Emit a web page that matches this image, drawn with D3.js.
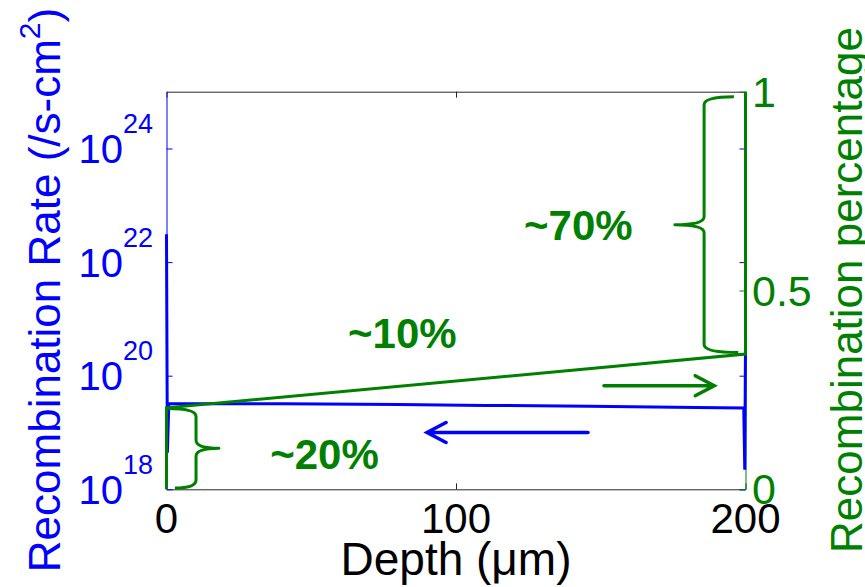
<!DOCTYPE html>
<html><head><meta charset="utf-8">
<script src="https://cdn.jsdelivr.net/npm/d3@7"></script>
<style>body{margin:0;background:#fff}svg{display:block}text{font-family:"Liberation Sans",Arial,Helvetica,sans-serif}</style>
</head><body><svg id="c" width="865" height="587"></svg>
<script>
// ---- data ----
const xTicks = [0, 100, 200];
const leftTickExps = [18, 20, 22, 24];
const rightTicks = [0, 0.5, 1];
const rateDepth = [0, 0.3, 0.8, 40, 80, 110, 146, 183, 199.4, 199.75, 200];
const rateValue = [3.1e22, 4.4e18, 3.2e19, 3.2e19, 3.1e19, 3.0e19, 2.9e19, 2.75e19, 2.7e19, 2.2e18, 3.5e20];
const pctDepth = [0, 0, 200, 200];
const pctValue = [0, 0.205, 0.34, 1];
const annoLabels = ["~20%", "~10%", "~70%"];
const annoDepth = [35.8, 62.7, 123.5];
const annoPct = [0.051, 0.355, 0.627];
const braceSpine = [10.2, 185.7];
const braceTip = [18.1, 175.6];
const braceHookTop = [0.6, 196.0];
const braceHookBottom = [2.9, 197.5];
const braceTop = [0.203, 0.987];
const braceBottom = [0.003, 0.344];
const greenArrow = {from: 151.1, to: 189.2, pct: 0.2606};
const blueArrow = {from: 145.6, to: 90.0, rate: 1e19};

const BLUE = "#0000ff", GREEN = "#008000", AX = "#262626";
const svg = d3.select("#c");
const x = d3.scaleLinear([0, 200], [166.5, 745.5]);
const yL = d3.scaleLog([1e18, 1e25], [489.3, 91.7]);
const yR = d3.scaleLinear([0, 1], [489.3, 91.7]);

// ---- axes ----
function styleAxis(g, color) {
  g.selectAll("path").attr("stroke", color).attr("stroke-width", 1);
  g.selectAll("line").attr("stroke", color).attr("stroke-width", 1);
  g.selectAll("text").remove();
}
svg.append("g").attr("transform", "translate(0,489.3)")
  .call(d3.axisTop(x).tickValues(xTicks).tickSize(6).tickSizeOuter(0)).call(g => styleAxis(g, AX));
svg.append("g").attr("transform", "translate(0,91.7)")
  .call(d3.axisBottom(x).tickValues(xTicks).tickSize(6).tickSizeOuter(0)).call(g => styleAxis(g, AX));
svg.append("g").attr("transform", "translate(166.5,0)")
  .call(d3.axisRight(yL).tickValues(leftTickExps.map(e => 10 ** e)).tickSize(6).tickSizeOuter(0)).call(g => styleAxis(g, BLUE));
svg.append("g").attr("transform", "translate(745.5,0)")
  .call(d3.axisLeft(yL).tickValues(leftTickExps.map(e => 10 ** e)).tickSize(6).tickSizeOuter(0))
  .call(g => { styleAxis(g, BLUE); g.select("path").remove(); });
svg.append("g").attr("transform", "translate(745.5,0)")
  .call(d3.axisLeft(yR).tickValues(rightTicks).tickSize(6).tickSizeOuter(0)).call(g => styleAxis(g, GREEN));

// tick labels
leftTickExps.forEach(e => {
  const t = svg.append("text").attr("x", 153).attr("y", yL(10 ** e) + 14.5)
    .attr("text-anchor", "end").attr("fill", BLUE);
  t.append("tspan").attr("font-size", 40).text("10");
  t.append("tspan").attr("font-size", 27).attr("dy", -30).text(e);
});
rightTicks.forEach(v => {
  svg.append("text").attr("x", 752).attr("y", yR(v) + 15).attr("fill", GREEN)
    .attr("font-size", 43).text(v);
});
xTicks.forEach(v => {
  svg.append("text").attr("x", x(v)).attr("y", 533).attr("text-anchor", "middle")
    .attr("fill", "#000").attr("font-size", 42).text(v);
});

// axis titles
svg.append("text").attr("x", 456).attr("y", 575).attr("text-anchor", "middle")
  .attr("font-size", 46).attr("fill", "#000").text("Depth (\u03bcm)");
const yl = svg.append("text").attr("transform", "translate(60,290) rotate(-90)")
  .attr("text-anchor", "middle").attr("font-size", 44).attr("fill", BLUE);
yl.append("tspan").text("Recombination Rate (/s-cm");
yl.append("tspan").attr("font-size", 30).attr("dy", -20).text("2");
yl.append("tspan").attr("dy", 20).text(")");
svg.append("text").attr("transform", "translate(862,290) rotate(-90)")
  .attr("text-anchor", "middle").attr("font-size", 44).attr("fill", GREEN)
  .text("Recombination percentage");

// ---- data lines ----
const rateLine = d3.line().x(d => x(d[0])).y(d => yL(d[1]));
svg.append("path").datum(rateDepth.map((d, i) => [d, rateValue[i]]))
  .attr("d", rateLine).attr("fill", "none").attr("stroke", BLUE).attr("stroke-width", 3);
const pctLine = d3.line().x(d => x(d[0])).y(d => yR(d[1]));
svg.append("path").datum(pctDepth.map((d, i) => [d, pctValue[i]]))
  .attr("d", pctLine).attr("fill", "none").attr("stroke", GREEN).attr("stroke-width", 3);

// ---- annotations ----
braceSpine.forEach((s, i) => {
  const sx = x(s), tx = x(braceTip[i]), hxT = x(braceHookTop[i]), hxB = x(braceHookBottom[i]);
  const y0 = yR(braceTop[i]), y1 = yR(braceBottom[i]), ym = (y0 + y1) / 2, r = 8;
  const p = d3.path();
  p.moveTo(hxT, y0); p.quadraticCurveTo(sx, y0, sx, y0 + r);
  p.lineTo(sx, ym - r); p.quadraticCurveTo(sx, ym, tx, ym);
  p.quadraticCurveTo(sx, ym, sx, ym + r); p.lineTo(sx, y1 - r);
  p.quadraticCurveTo(sx, y1, hxB, y1);
  svg.append("path").attr("d", p.toString()).attr("fill", "none")
    .attr("stroke", GREEN).attr("stroke-width", 3).attr("stroke-linejoin", "round");
});
function arrow(x1, x2, y, color) {
  const dir = Math.sign(x2 - x1);
  const p = d3.path();
  p.moveTo(x1, y); p.lineTo(x2, y);
  p.moveTo(x2 - dir * 19, y - 10); p.lineTo(x2, y); p.lineTo(x2 - dir * 19, y + 10);
  svg.append("path").attr("d", p.toString()).attr("fill", "none").attr("stroke", color)
    .attr("stroke-width", 3.5).attr("stroke-linecap", "round").attr("stroke-linejoin", "miter");
}
arrow(x(greenArrow.from), x(greenArrow.to), yR(greenArrow.pct), GREEN);
arrow(x(blueArrow.from), x(blueArrow.to), yL(blueArrow.rate), BLUE);
annoLabels.forEach((t, i) => {
  svg.append("text").attr("x", x(annoDepth[i])).attr("y", yR(annoPct[i]))
    .attr("font-size", 42).attr("font-weight", "bold").attr("fill", GREEN).text(t);
});
</script></body></html>
